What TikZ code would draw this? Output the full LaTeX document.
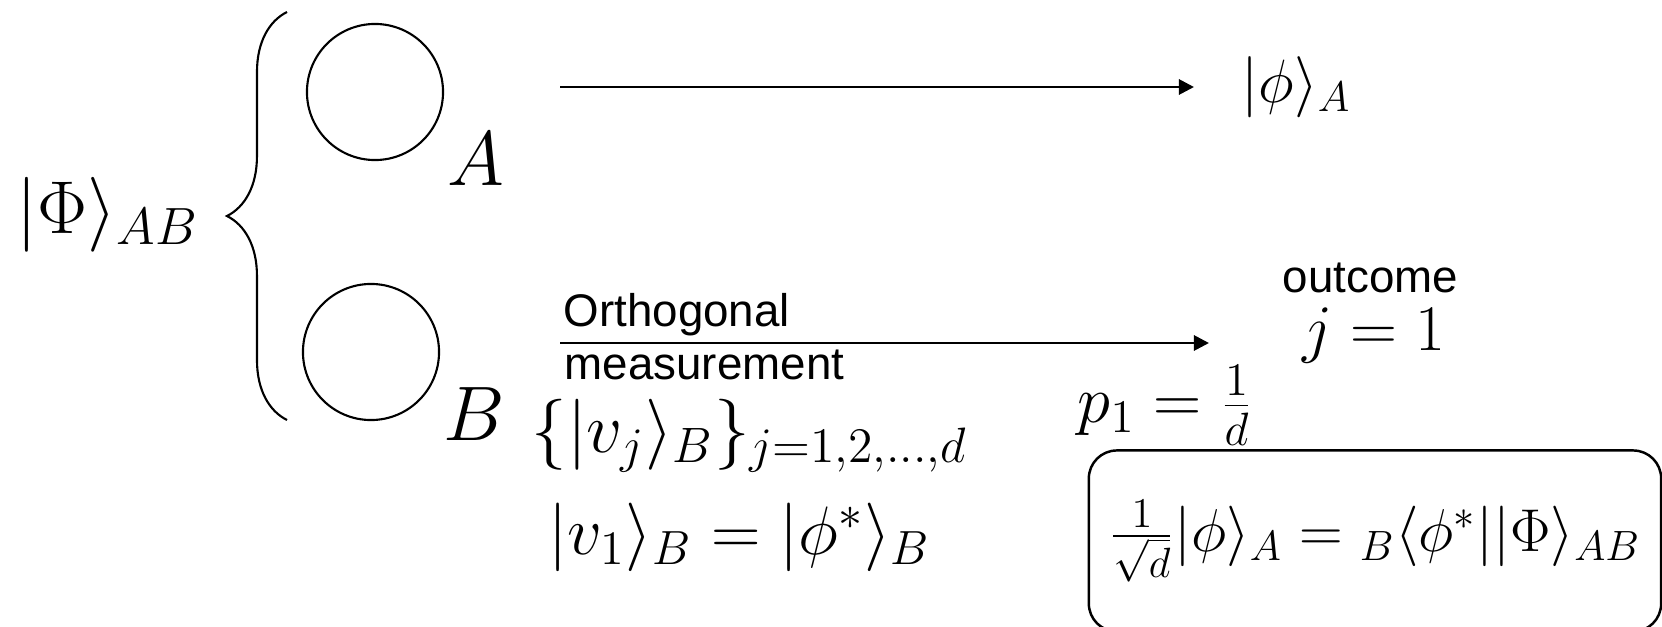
\documentclass[tikz,border=0pt]{standalone}
\usepackage{fix-cm}
\usepackage{fontspec}
\setsansfont{Liberation Sans}
\usetikzlibrary{arrows.meta,decorations.pathreplacing}

\begin{document}
\begin{tikzpicture}[x=0.01cm, y=-0.01cm,
    >={Triangle[length=4.3pt,width=4.3pt]},
    qubit/.style={draw, circle, line width=0.6pt, minimum size=1.36cm, inner sep=0pt},
    eq/.style={inner sep=0pt, anchor=base west},
    note/.style={inner sep=0pt, anchor=base west, font=\fontsize{13}{15}\selectfont\sffamily}]
    \clip (0,0) rectangle (1662,627);

    % the shared state and its two halves
    \node[eq, font=\fontsize{21.3}{25}\selectfont] (state) at (16,233) {$|\Phi\rangle_{AB}$};
    \draw[line width=0.6pt, decorate, decoration={brace, amplitude=0.6cm}] (287,420) -- (287,12);
    \node[qubit] (qa) at (375,92) {};
    \node[qubit] (qb) at (371,352) {};
    \node[eq, font=\fontsize{22}{26}\selectfont] (la) at (447,185) {$A$};
    \node[eq, font=\fontsize{22}{26}\selectfont] (lb) at (443,440) {$B$};

    % A is left alone
    \coordinate (a0) at (560,87);
    \coordinate (a1) at (1194,87);
    \draw[->, line width=0.8pt] (a0) -- (a1);
    \node[eq, font=\fontsize{17.4}{20}\selectfont] (phia) at (1241,102) {$|\phi\rangle_A$};

    % B is measured
    \coordinate (b0) at (560,343);
    \coordinate (b1) at (1209,343);
    \draw[->, line width=0.8pt] (b0) -- (b1);
    \node[note] (orth) at (563,326) {Orthogonal};
    \node[note] (meas) at (564,379) {measurement};
    \node[eq, font=\fontsize{20.2}{24}\selectfont] (basis) at (531,452)
        {$\{|v_j\rangle_B\}_{j=1,2,\ldots,d}$};
    \node[eq, font=\fontsize{19.5}{23}\selectfont] (vone) at (548,554)
        {$|v_1\rangle_B = |\phi^*\rangle_B$};

    % outcome
    \node[note] (outc) at (1282,292) {outcome};
    \node[eq, font=\fontsize{18.5}{22}\selectfont] (jone) at (1302,350) {$j = 1$};
    \node[eq, font=\fontsize{19}{22}\selectfont] (prob) at (1077,422) {$p_1 = \frac{1}{d}$};
    \node[draw, line width=0.7pt, rounded corners=0.28cm, inner sep=0pt,
        minimum width=5.72cm, minimum height=1.81cm,
        font=\fontsize{17.2}{20}\selectfont] (post) at (1375,541)
        {$\frac{1}{\sqrt{d}}|\phi\rangle_A = {}_B\langle\phi^*||\Phi\rangle_{AB}$};
\end{tikzpicture}
\end{document}
